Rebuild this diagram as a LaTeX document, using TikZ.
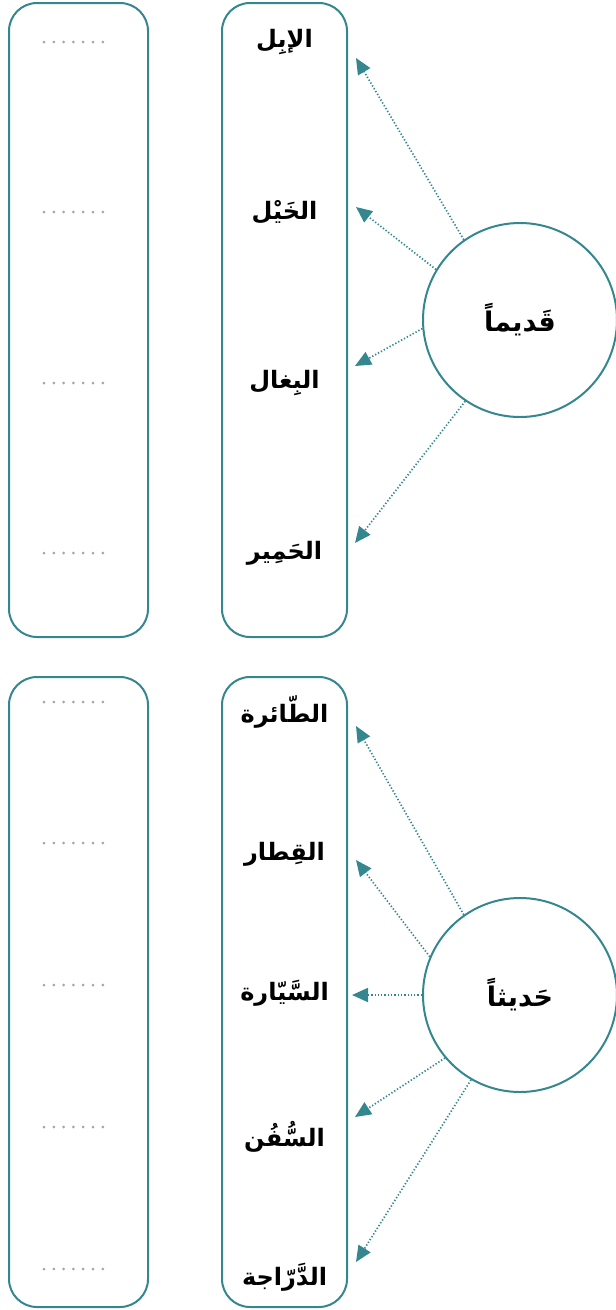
\documentclass[tikz,border=0pt]{standalone}
\usepackage{fontspec}
\usetikzlibrary{arrows.meta}
\TeXXeTstate=1
\newfontfamily\arabicfont[Script=Arabic]{DejaVu Sans}
\definecolor{tealc}{RGB}{52,135,142}
\definecolor{dotgray}{RGB}{165,165,165}
\tikzset{
  colbox/.style={draw=tealc, line width=2pt, rounded corners=28pt, inner sep=0pt},
  bubble/.style={circle, draw=tealc, line width=2pt, minimum size=194pt, inner sep=0pt, font=\arabicfont\bfseries\fontsize{27}{32}\selectfont},
  word/.style={inner sep=0pt, font=\arabicfont\bfseries\fontsize{24}{29}\selectfont},
  blank/.style={draw=dotgray, line width=3pt, line cap=round, dash pattern=on 0pt off 9.8pt},
  link/.style={draw=tealc, line width=1.7pt, dash pattern=on 1.3pt off 2pt, -{Triangle[length=16pt,width=14pt]}},
}
\begin{document}
\begin{tikzpicture}[x=1pt,y=-1pt]
\useasboundingbox (0,0) rectangle (616,1310);
% ---- top section
\node[colbox, minimum width=139pt, minimum height=634pt] (L1) at (78.5,320) {};
\node[colbox, minimum width=125pt, minimum height=634pt] (M1) at (284.5,320) {};
\node[bubble] (C1) at (520,320) {\beginR قَديماً\endR};
\node[word] (w1) at (284.5,42) {\beginR الإبِل\endR};
\node[word] (w2) at (284.5,212) {\beginR الخَيْل\endR};
\node[word] (w3) at (284.5,383) {\beginR البِغال\endR};
\node[word] (w4) at (284.5,553) {\beginR الحَمِير\endR};
\foreach \y/\n in {42/a,212/b,383/c,553/d}{
  \coordinate (bs\n) at (44,\y);
  \coordinate (be\n) at (103,\y);
  \draw[blank] (bs\n) -- (be\n);
}
\coordinate (t1) at (356,58);
\coordinate (t2) at (356,207);
\coordinate (t3) at (355,366);
\coordinate (t4) at (355,543);
\draw[link] (C1.125) -- (t1);
\draw[link] (C1.149) -- (t2);
\draw[link] (C1.185) -- (t3);
\draw[link] (C1.236) -- (t4);
% ---- bottom section
\node[colbox, minimum width=139pt, minimum height=630pt] (L2) at (78.5,992) {};
\node[colbox, minimum width=125pt, minimum height=630pt] (M2) at (284.5,992) {};
\node[bubble] (C2) at (520,995) {\beginR حَديثاً\endR};
\node[word] (v1) at (284.5,712) {\beginR الطّائرة\endR};
\node[word] (v2) at (284.5,854) {\beginR القِطار\endR};
\node[word] (v3) at (284.5,993) {\beginR السَّيّارة\endR};
\node[word] (v4) at (284.5,1137) {\beginR السُّفُن\endR};
\node[word] (v5) at (284.5,1277) {\beginR الدَّرّاجة\endR};
\foreach \y/\n in {702/e,843/f,985/g,1127/h,1269/i}{
  \coordinate (bs\n) at (44,\y);
  \coordinate (be\n) at (103,\y);
  \draw[blank] (bs\n) -- (be\n);
}
\coordinate (s1) at (356,726);
\coordinate (s2) at (356,860);
\coordinate (s3) at (352,995);
\coordinate (s4) at (355,1117);
\coordinate (s5) at (356,1262);
\draw[link] (C2.125) -- (s1);
\draw[link] (C2.157) -- (s2);
\draw[link] (C2.180) -- (s3);
\draw[link] (C2.220) -- (s4);
\draw[link] (C2.240) -- (s5);
\end{tikzpicture}
\end{document}
